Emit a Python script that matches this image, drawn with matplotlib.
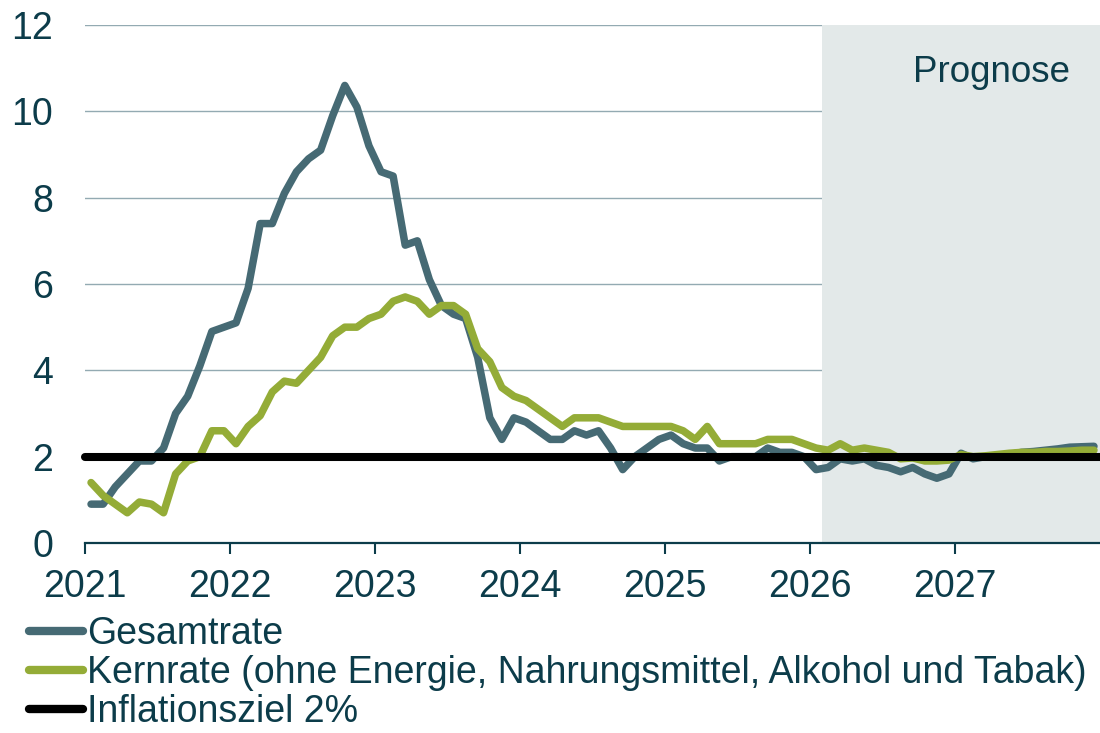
import numpy as np
import matplotlib.pyplot as plt
from matplotlib.lines import Line2D

# monthly values Jan 2021 - Dec 2027 (from Feb 2026: projection)
gesamt = [0.9, 0.9, 1.3, 1.6, 1.9, 1.9, 2.2, 3.0, 3.4, 4.1, 4.9, 5.0,
          5.1, 5.9, 7.4, 7.4, 8.1, 8.6, 8.9, 9.1, 9.9, 10.6, 10.1, 9.2,
          8.6, 8.5, 6.9, 7.0, 6.1, 5.5, 5.3, 5.2, 4.3, 2.9, 2.4, 2.9,
          2.8, 2.6, 2.4, 2.4, 2.6, 2.5, 2.6, 2.2, 1.7, 2.0, 2.2, 2.4,
          2.5, 2.3, 2.2, 2.2, 1.9, 2.0, 2.0, 2.0, 2.2, 2.1, 2.1, 2.0,
          1.7, 1.75, 1.95, 1.9, 1.95, 1.8, 1.75, 1.65, 1.75, 1.6, 1.5, 1.6,
          2.08, 1.95, 2.0, 2.02, 2.05, 2.1, 2.12, 2.15, 2.18, 2.22, 2.23, 2.24]
kern = [1.4, 1.1, 0.9, 0.7, 0.95, 0.9, 0.7, 1.6, 1.9, 2.0, 2.6, 2.6,
        2.3, 2.7, 2.95, 3.5, 3.75, 3.7, 4.0, 4.3, 4.8, 5.0, 5.0, 5.2,
        5.3, 5.6, 5.7, 5.6, 5.3, 5.5, 5.5, 5.3, 4.5, 4.2, 3.6, 3.4,
        3.3, 3.1, 2.9, 2.7, 2.9, 2.9, 2.9, 2.8, 2.7, 2.7, 2.7, 2.7,
        2.7, 2.6, 2.4, 2.7, 2.3, 2.3, 2.3, 2.3, 2.4, 2.4, 2.4, 2.3,
        2.2, 2.15, 2.3, 2.15, 2.2, 2.15, 2.1, 1.95, 1.97, 1.9, 1.9, 1.92,
        2.05, 2.0, 2.02, 2.05, 2.08, 2.1, 2.1, 2.12, 2.12, 2.13, 2.15, 2.15]
ziel = 2.0
years = [2021, 2022, 2023, 2024, 2025, 2026, 2027]
prognose_start = 2026 + 1 / 12
labels = ["Gesamtrate",
          "Kernrate (ohne Energie, Nahrungsmittel, Alkohol und Tabak)",
          "Inflationsziel 2%"]

TEXT = "#0c3c4a"
TEAL = "#466a74"
GREEN = "#94ac37"

plt.rcParams['font.family'] = ['Liberation Sans', 'DejaVu Sans']

x = years[0] + (np.arange(len(gesamt)) + 0.5) / 12

fig = plt.figure(figsize=(11, 7.33), dpi=100)
ax = fig.add_axes([85 / 1100, 1 - 543 / 733, 1 - 85 / 1100, (543 - 25) / 733])

ax.set_axisbelow(True)
ax.yaxis.grid(True, color="#93aab2", lw=1)
ax.axvspan(prognose_start, 2028, color="#e3e9e9", lw=0, zorder=1)

ax.plot(x, gesamt, color=TEAL, lw=5.4, solid_joinstyle='round', solid_capstyle='round', zorder=3)
ax.plot(x, kern, color=GREEN, lw=5.4, solid_joinstyle='round', solid_capstyle='round', zorder=4)
ax.axhline(ziel, color='black', lw=5.8, solid_capstyle='round', zorder=5, clip_on=False)

ax.set_xlim(2021, 2028)
ax.set_ylim(0, 12)
ax.set_yticks(range(0, 13, 2))
ax.set_xticks(years)
ax.tick_params(axis='y', length=0, pad=23, labelsize=27, labelcolor=TEXT)
ax.tick_params(axis='x', length=8, width=1.5, color=TEXT, pad=11, labelsize=27, labelcolor=TEXT)
for s in ['top', 'right', 'left']:
    ax.spines[s].set_visible(False)
ax.spines['bottom'].set_color(TEXT)
ax.spines['bottom'].set_linewidth(1.6)

fig.text(991 / 1100, 1 - 72 / 733, "Prognose", ha='center', va='center', fontsize=26.5, color=TEXT)

handles = [Line2D([], [], color=TEAL, lw=6, solid_capstyle='round'),
           Line2D([], [], color=GREEN, lw=6, solid_capstyle='round'),
           Line2D([], [], color='black', lw=6, solid_capstyle='round')]
fig.legend(handles, labels, loc='upper left', bbox_to_anchor=(0.026, 0.159),
           frameon=False, fontsize=27, labelcolor=TEXT, handlelength=1.45,
           handletextpad=0.12, labelspacing=0.07, borderpad=0, borderaxespad=0)

fig.savefig("out.png", dpi=100)
